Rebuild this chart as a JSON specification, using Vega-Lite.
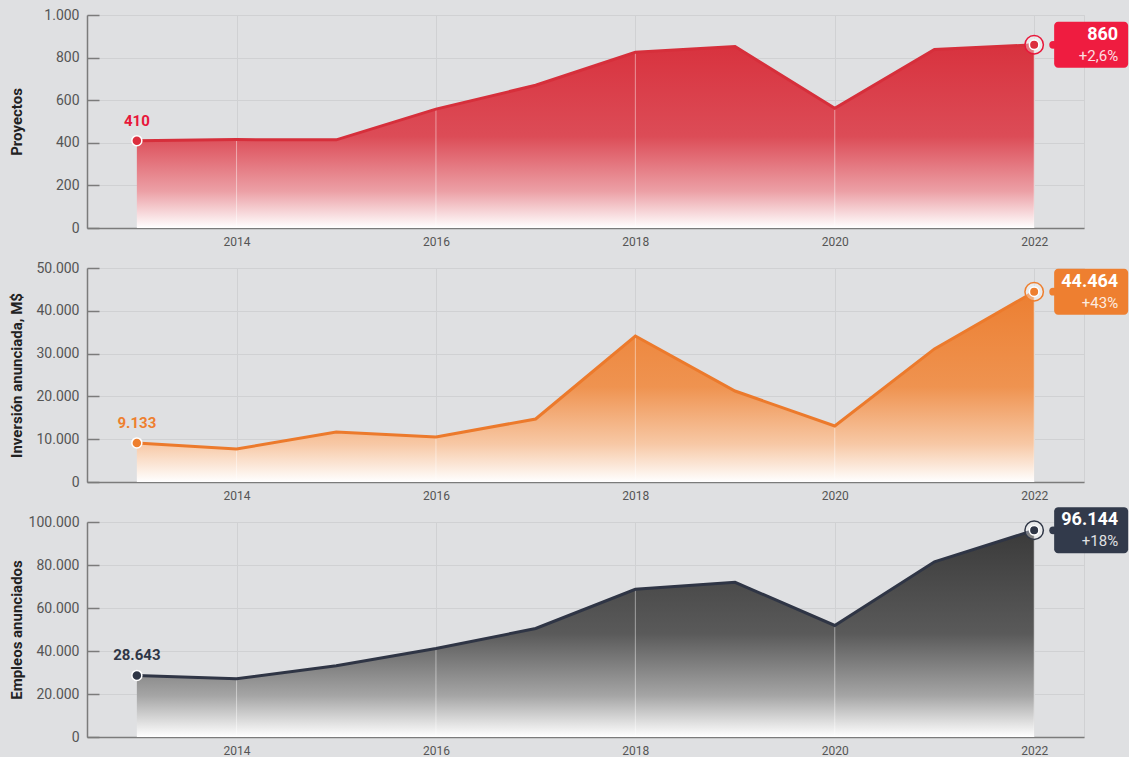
{
  "$schema": "https://vega.github.io/schema/vega-lite/v6.json",
  "background": "#dfe0e2",
  "padding": {"left": 8, "top": 7, "right": 0, "bottom": 0},
  "spacing": 40,
  "bounds": "flush",
  "datasets": {
    "series": [
      {"metric": "Proyectos", "year": 2013, "value": 410},
      {"metric": "Proyectos", "year": 2014, "value": 415},
      {"metric": "Proyectos", "year": 2015, "value": 414},
      {"metric": "Proyectos", "year": 2016, "value": 558},
      {"metric": "Proyectos", "year": 2017, "value": 670},
      {"metric": "Proyectos", "year": 2018, "value": 825},
      {"metric": "Proyectos", "year": 2019, "value": 852},
      {"metric": "Proyectos", "year": 2020, "value": 562},
      {"metric": "Proyectos", "year": 2021, "value": 838},
      {"metric": "Proyectos", "year": 2022, "value": 860},
      {"metric": "Inversion", "year": 2013, "value": 9133},
      {"metric": "Inversion", "year": 2014, "value": 7710},
      {"metric": "Inversion", "year": 2015, "value": 11680},
      {"metric": "Inversion", "year": 2016, "value": 10510},
      {"metric": "Inversion", "year": 2017, "value": 14720},
      {"metric": "Inversion", "year": 2018, "value": 34110},
      {"metric": "Inversion", "year": 2019, "value": 21260},
      {"metric": "Inversion", "year": 2020, "value": 13080},
      {"metric": "Inversion", "year": 2021, "value": 31094},
      {"metric": "Inversion", "year": 2022, "value": 44464},
      {"metric": "Empleos", "year": 2013, "value": 28643},
      {"metric": "Empleos", "year": 2014, "value": 27100},
      {"metric": "Empleos", "year": 2015, "value": 33180},
      {"metric": "Empleos", "year": 2016, "value": 41120},
      {"metric": "Empleos", "year": 2017, "value": 50470},
      {"metric": "Empleos", "year": 2018, "value": 68690},
      {"metric": "Empleos", "year": 2019, "value": 71960},
      {"metric": "Empleos", "year": 2020, "value": 51870},
      {"metric": "Empleos", "year": 2021, "value": 81478},
      {"metric": "Empleos", "year": 2022, "value": 96144}
    ]
  },
  "vconcat": [
    {
      "width": 997,
      "height": 213,
      "data": {"name": "series"},
      "transform": [
        {"filter": "datum.metric === 'Proyectos'"},
        {"window": [{"op": "lag", "field": "value", "as": "prev"}], "sort": [{"field": "year"}]},
        {"calculate": "datum.prev ? datum.value / datum.prev - 1 : 0", "as": "change"}
      ],
      "encoding": {
        "x": {"field": "year", "type": "quantitative", "scale": {"domain": [2012.5, 2022.5], "nice": false, "zero": false},
          "axis": {"title": null, "values": [2014, 2016, 2018, 2020, 2022], "format": "d", "ticks": false, "labelPadding": 8, "grid": true}},
        "y": {"field": "value", "type": "quantitative", "scale": {"domain": [0, 1000], "nice": false},
          "axis": {"title": "Proyectos", "values": [0, 200, 400, 600, 800, 1000], "format": ",d"}}
      },
      "layer": [
        {"mark": {"type": "area", "color": {"gradient": "linear", "x1": 0, "y1": 0, "x2": 0, "y2": 1,
          "stops": [{"offset": 0, "color": "#d8323e"}, {"offset": 0.5, "color": "#dc4c57"}, {"offset": 0.8, "color": "#eca0a6"}, {"offset": 1, "color": "#ffffff"}]}}},
        {"transform": [{"filter": "datum.year % 2 === 0"}],
          "mark": {"type": "rule", "color": "#ffffff", "opacity": 0.45, "strokeWidth": 1},
          "encoding": {"y2": {"datum": 0}}},
        {"mark": {"type": "line", "color": "#d62f3b", "strokeWidth": 3}},
        {"transform": [{"filter": "datum.year === 2013"}],
          "mark": {"type": "point", "filled": true, "color": "#dc2f3e", "size": 100, "stroke": "#ffffff", "strokeWidth": 1.5, "opacity": 1}},
        {"transform": [{"filter": "datum.year === 2013"}],
          "mark": {"type": "text", "color": "#e8173a", "fontSize": 15, "fontWeight": "bold", "dy": -20, "align": "center", "baseline": "middle"},
          "encoding": {"text": {"field": "value", "type": "quantitative", "format": ",d"}}},
        {"transform": [{"filter": "datum.year === 2022"}],
          "mark": {"type": "point", "filled": true, "fill": "#ffffff", "fillOpacity": 0.35, "stroke": "#e8173a", "strokeWidth": 1.5, "size": 340, "opacity": 1}},
        {"transform": [{"filter": "datum.year === 2022"}],
          "mark": {"type": "point", "filled": true, "color": "#dc2f3e", "size": 90, "stroke": "#ffffff", "strokeWidth": 1.5, "opacity": 1}},
        {"transform": [{"filter": "datum.year === 2022"}],
          "mark": {"type": "rect", "color": "#ef1c40", "cornerRadius": 4, "xOffset": 20, "x2Offset": 94, "yOffset": -23, "y2Offset": 23, "clip": false},
          "encoding": {"x2": {"field": "year"}, "y2": {"field": "value"}}},
        {"transform": [{"filter": "datum.year === 2022"}],
          "mark": {"type": "point", "filled": true, "color": "#ef1c40", "size": 60, "xOffset": 19, "opacity": 1}},
        {"transform": [{"filter": "datum.year === 2022"}],
          "mark": {"type": "text", "color": "#ffffff", "fontSize": 18, "fontWeight": "bold", "dx": 84, "dy": -10, "align": "right", "baseline": "middle"},
          "encoding": {"text": {"field": "value", "type": "quantitative", "format": ",d"}}},
        {"transform": [{"filter": "datum.year === 2022"}],
          "mark": {"type": "text", "color": "#ffffff", "opacity": 0.85, "fontSize": 15, "dx": 84, "dy": 11, "align": "right", "baseline": "middle"},
          "encoding": {"text": {"field": "change", "type": "quantitative", "format": "+.1%"}}}
      ]
    },
    {
      "width": 997,
      "height": 214,
      "data": {"name": "series"},
      "transform": [
        {"filter": "datum.metric === 'Inversion'"},
        {"window": [{"op": "lag", "field": "value", "as": "prev"}], "sort": [{"field": "year"}]},
        {"calculate": "datum.prev ? datum.value / datum.prev - 1 : 0", "as": "change"}
      ],
      "encoding": {
        "x": {"field": "year", "type": "quantitative", "scale": {"domain": [2012.5, 2022.5], "nice": false, "zero": false},
          "axis": {"title": null, "values": [2014, 2016, 2018, 2020, 2022], "format": "d", "ticks": false, "labelPadding": 8, "grid": true}},
        "y": {"field": "value", "type": "quantitative", "scale": {"domain": [0, 50000], "nice": false},
          "axis": {"title": "Inversión anunciada, M$", "values": [0, 10000, 20000, 30000, 40000, 50000], "format": ",d"}}
      },
      "layer": [
        {"mark": {"type": "area", "color": {"gradient": "linear", "x1": 0, "y1": 0, "x2": 0, "y2": 1,
          "stops": [{"offset": 0, "color": "#ec7f32"}, {"offset": 0.5, "color": "#ef9350"}, {"offset": 0.8, "color": "#f7c8a5"}, {"offset": 1, "color": "#ffffff"}]}}},
        {"transform": [{"filter": "datum.year % 2 === 0"}],
          "mark": {"type": "rule", "color": "#ffffff", "opacity": 0.45, "strokeWidth": 1},
          "encoding": {"y2": {"datum": 0}}},
        {"mark": {"type": "line", "color": "#ec7a2c", "strokeWidth": 3}},
        {"transform": [{"filter": "datum.year === 2013"}],
          "mark": {"type": "point", "filled": true, "color": "#ee7f2f", "size": 100, "stroke": "#ffffff", "strokeWidth": 1.5, "opacity": 1}},
        {"transform": [{"filter": "datum.year === 2013"}],
          "mark": {"type": "text", "color": "#ee7f2f", "fontSize": 15, "fontWeight": "bold", "dy": -20, "align": "center", "baseline": "middle"},
          "encoding": {"text": {"field": "value", "type": "quantitative", "format": ",d"}}},
        {"transform": [{"filter": "datum.year === 2022"}],
          "mark": {"type": "point", "filled": true, "fill": "#ffffff", "fillOpacity": 0.35, "stroke": "#ee7f2f", "strokeWidth": 1.5, "size": 340, "opacity": 1}},
        {"transform": [{"filter": "datum.year === 2022"}],
          "mark": {"type": "point", "filled": true, "color": "#ee7f2f", "size": 90, "stroke": "#ffffff", "strokeWidth": 1.5, "opacity": 1}},
        {"transform": [{"filter": "datum.year === 2022"}],
          "mark": {"type": "rect", "color": "#ee7f30", "cornerRadius": 4, "xOffset": 20, "x2Offset": 94, "yOffset": -23, "y2Offset": 23, "clip": false},
          "encoding": {"x2": {"field": "year"}, "y2": {"field": "value"}}},
        {"transform": [{"filter": "datum.year === 2022"}],
          "mark": {"type": "point", "filled": true, "color": "#ee7f30", "size": 60, "xOffset": 19, "opacity": 1}},
        {"transform": [{"filter": "datum.year === 2022"}],
          "mark": {"type": "text", "color": "#ffffff", "fontSize": 18, "fontWeight": "bold", "dx": 84, "dy": -10, "align": "right", "baseline": "middle"},
          "encoding": {"text": {"field": "value", "type": "quantitative", "format": ",d"}}},
        {"transform": [{"filter": "datum.year === 2022"}],
          "mark": {"type": "text", "color": "#ffffff", "opacity": 0.85, "fontSize": 15, "dx": 84, "dy": 11, "align": "right", "baseline": "middle"},
          "encoding": {"text": {"field": "change", "type": "quantitative", "format": "+.0%"}}}
      ]
    },
    {
      "width": 997,
      "height": 215,
      "data": {"name": "series"},
      "transform": [
        {"filter": "datum.metric === 'Empleos'"},
        {"window": [{"op": "lag", "field": "value", "as": "prev"}], "sort": [{"field": "year"}]},
        {"calculate": "datum.prev ? datum.value / datum.prev - 1 : 0", "as": "change"}
      ],
      "encoding": {
        "x": {"field": "year", "type": "quantitative", "scale": {"domain": [2012.5, 2022.5], "nice": false, "zero": false},
          "axis": {"title": null, "values": [2014, 2016, 2018, 2020, 2022], "format": "d", "ticks": false, "labelPadding": 8, "grid": true}},
        "y": {"field": "value", "type": "quantitative", "scale": {"domain": [0, 100000], "nice": false},
          "axis": {"title": "Empleos anunciados", "values": [0, 20000, 40000, 60000, 80000, 100000], "format": ",d"}}
      },
      "layer": [
        {"mark": {"type": "area", "color": {"gradient": "linear", "x1": 0, "y1": 0, "x2": 0, "y2": 1,
          "stops": [{"offset": 0, "color": "#3a3a3a"}, {"offset": 0.5, "color": "#5a5a5a"}, {"offset": 0.8, "color": "#a5a5a5"}, {"offset": 1, "color": "#ffffff"}]}}},
        {"transform": [{"filter": "datum.year % 2 === 0"}],
          "mark": {"type": "rule", "color": "#ffffff", "opacity": 0.45, "strokeWidth": 1},
          "encoding": {"y2": {"datum": 0}}},
        {"mark": {"type": "line", "color": "#2f3545", "strokeWidth": 3}},
        {"transform": [{"filter": "datum.year === 2013"}],
          "mark": {"type": "point", "filled": true, "color": "#2f3646", "size": 100, "stroke": "#ffffff", "strokeWidth": 1.5, "opacity": 1}},
        {"transform": [{"filter": "datum.year === 2013"}],
          "mark": {"type": "text", "color": "#2f3646", "fontSize": 15, "fontWeight": "bold", "dy": -20, "align": "center", "baseline": "middle"},
          "encoding": {"text": {"field": "value", "type": "quantitative", "format": ",d"}}},
        {"transform": [{"filter": "datum.year === 2022"}],
          "mark": {"type": "point", "filled": true, "fill": "#ffffff", "fillOpacity": 0.35, "stroke": "#2f3646", "strokeWidth": 1.5, "size": 340, "opacity": 1}},
        {"transform": [{"filter": "datum.year === 2022"}],
          "mark": {"type": "point", "filled": true, "color": "#2f3646", "size": 90, "stroke": "#ffffff", "strokeWidth": 1.5, "opacity": 1}},
        {"transform": [{"filter": "datum.year === 2022"}],
          "mark": {"type": "rect", "color": "#323a4b", "cornerRadius": 4, "xOffset": 20, "x2Offset": 94, "yOffset": -23, "y2Offset": 23, "clip": false},
          "encoding": {"x2": {"field": "year"}, "y2": {"field": "value"}}},
        {"transform": [{"filter": "datum.year === 2022"}],
          "mark": {"type": "point", "filled": true, "color": "#323a4b", "size": 60, "xOffset": 19, "opacity": 1}},
        {"transform": [{"filter": "datum.year === 2022"}],
          "mark": {"type": "text", "color": "#ffffff", "fontSize": 18, "fontWeight": "bold", "dx": 84, "dy": -10, "align": "right", "baseline": "middle"},
          "encoding": {"text": {"field": "value", "type": "quantitative", "format": ",d"}}},
        {"transform": [{"filter": "datum.year === 2022"}],
          "mark": {"type": "text", "color": "#ffffff", "opacity": 0.85, "fontSize": 15, "dx": 84, "dy": 11, "align": "right", "baseline": "middle"},
          "encoding": {"text": {"field": "change", "type": "quantitative", "format": "+.0%"}}}
      ]
    }
  ],
  "config": {
    "locale": {"number": {"decimal": ",", "thousands": ".", "grouping": [3], "currency": ["", " $"]}},
    "font": "Roboto",
    "view": {"stroke": "#d0d1d3", "strokeWidth": 1},
    "axis": {
      "labelFont": "Roboto",
      "titleFont": "Roboto",
      "labelColor": "#555555",
      "gridColor": "#d0d1d3",
      "gridWidth": 1,
      "domainColor": "#7b7b7b",
      "domainWidth": 1.5,
      "tickColor": "#7b7b7b",
      "tickWidth": 1.5
    },
    "axisX": {"labelFontSize": 12},
    "axisY": {
      "labelFontSize": 14,
      "tickSize": -12,
      "labelPadding": 20,
      "grid": true,
      "titleFontSize": 15,
      "titleFontWeight": "bold",
      "titleColor": "#222222",
      "titlePadding": 8,
      "minExtent": 55,
      "maxExtent": 55
    }
  }
}
